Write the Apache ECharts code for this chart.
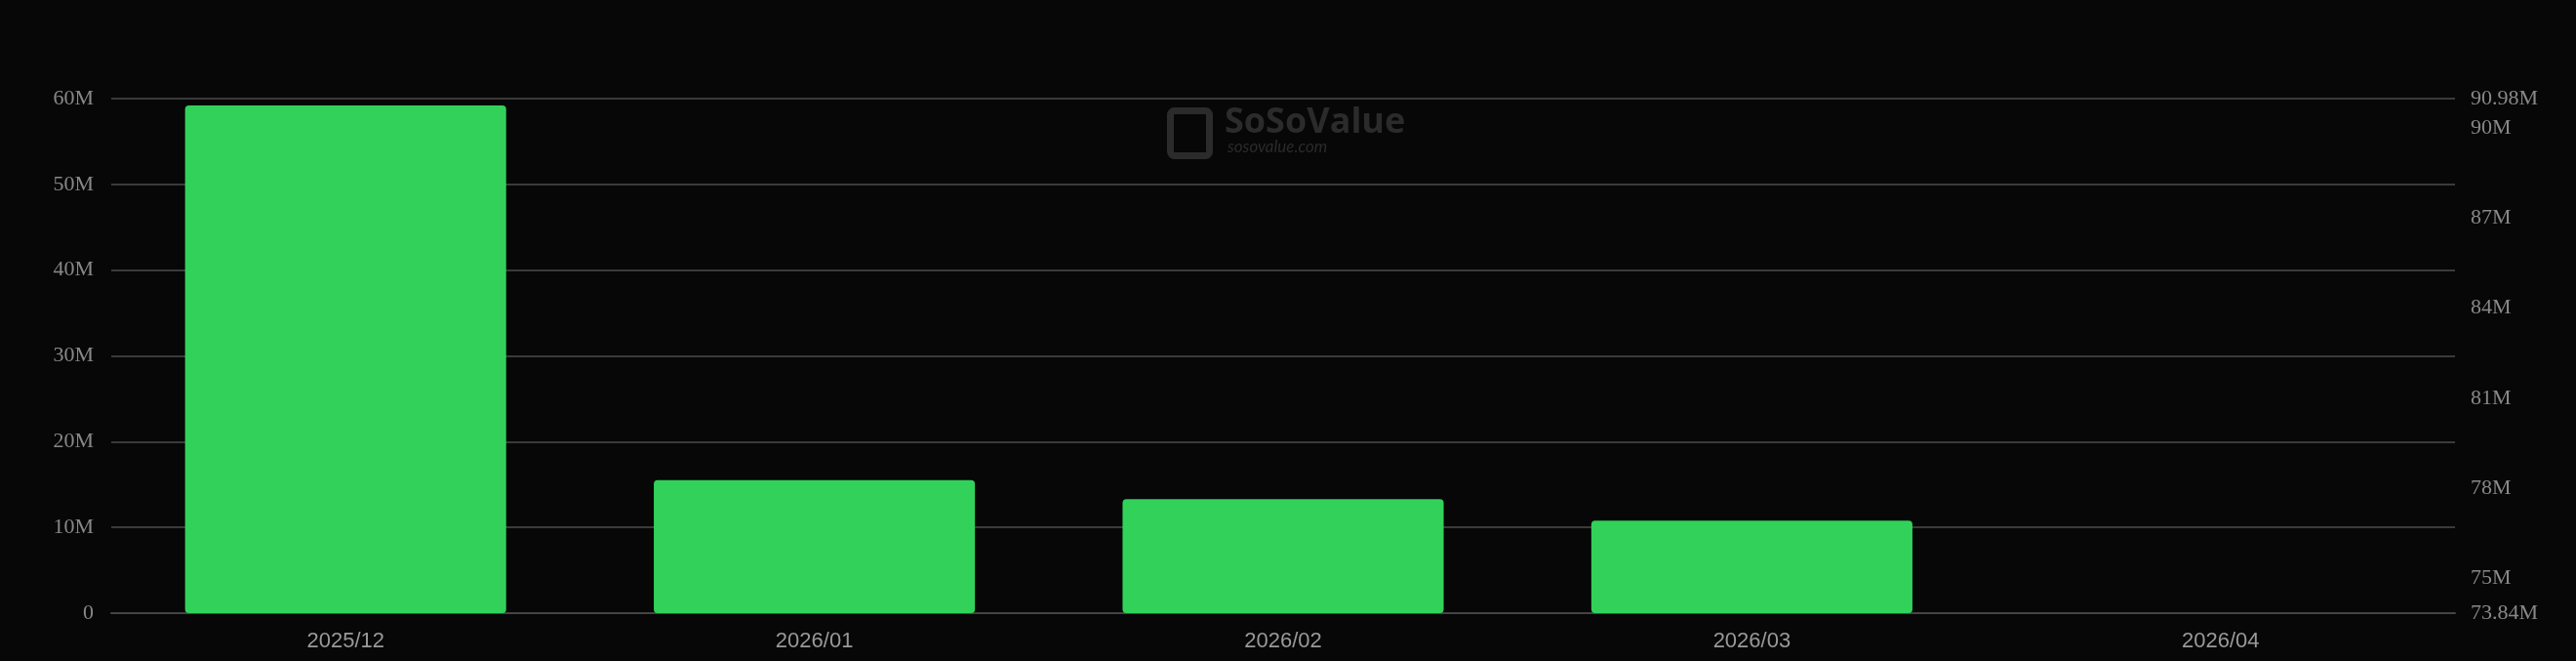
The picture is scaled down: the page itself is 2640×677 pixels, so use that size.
<!DOCTYPE html>
<html><head><meta charset="utf-8">
<script src="https://cdn.jsdelivr.net/npm/echarts@6/dist/echarts.min.js"></script>
<style>html,body{margin:0;padding:0;background:#070707;}#c{width:2640px;height:677px;}</style>
</head><body><div id="c"></div>
<script>
const categories = ['2025/12','2026/01','2026/02','2026/03','2026/04'];
const values = [59200000, 15500000, 13300000, 10800000, null];
const rightTicks = [73.84, 75, 78, 81, 84, 87, 90, 90.98];
const chart = echarts.init(document.getElementById('c'));
chart.setOption({
  backgroundColor: '#070707',
  animation: false,
  grid: {left: 114, right: 124, top: 101, bottom: 49},
  graphic: [
    {type: 'text', left: 1255, top: 108, style: {text: 'SoSoValue', fill: '#2b2b2b', font: 'bold 36px "Open Sans", sans-serif'}},
    {type: 'text', left: 1258, top: 142, style: {text: 'sosovalue.com', fill: '#2b2b2b', font: 'italic 17px Lato, sans-serif'}},
    {type: 'rect', left: 1196, top: 110, shape: {width: 40, height: 46, r: 4}, style: {fill: 'none', stroke: '#2b2b2b', lineWidth: 7}}
  ],
  xAxis: {
    type: 'category', data: categories,
    axisLine: {lineStyle: {color: '#444', width: 2}}, axisTick: {show: false},
    axisLabel: {color: '#999', fontSize: 22, fontFamily: 'Liberation Sans, Arial', margin: 18}
  },
  yAxis: [
    {type: 'value', min: 0, max: 60000000, interval: 10000000,
     axisLine: {show: false}, axisTick: {show: false},
     splitLine: {lineStyle: {color: '#3a3a3a', width: 2}},
     axisLabel: {color: '#888', fontSize: 22, fontFamily: 'Liberation Serif, serif', margin: 18,
       formatter: v => v === 0 ? '0' : (v / 1e6) + 'M'}},
    {type: 'value', min: 73.84, max: 90.98, position: 'right',
     axisLine: {show: false}, axisTick: {show: false}, splitLine: {show: false},
     axisLabel: {color: '#888', fontSize: 22, fontFamily: 'Liberation Serif, serif', margin: 16,
       customValues: rightTicks,
       formatter: v => (Number.isInteger(v) ? v : v.toFixed(2)) + 'M'}}
  ],
  series: [{type: 'bar', data: values, barWidth: '68.5%', yAxisIndex: 0,
    itemStyle: {color: '#32d25a', borderRadius: [4, 4, 4, 4]}}]
});
</script></body></html>
